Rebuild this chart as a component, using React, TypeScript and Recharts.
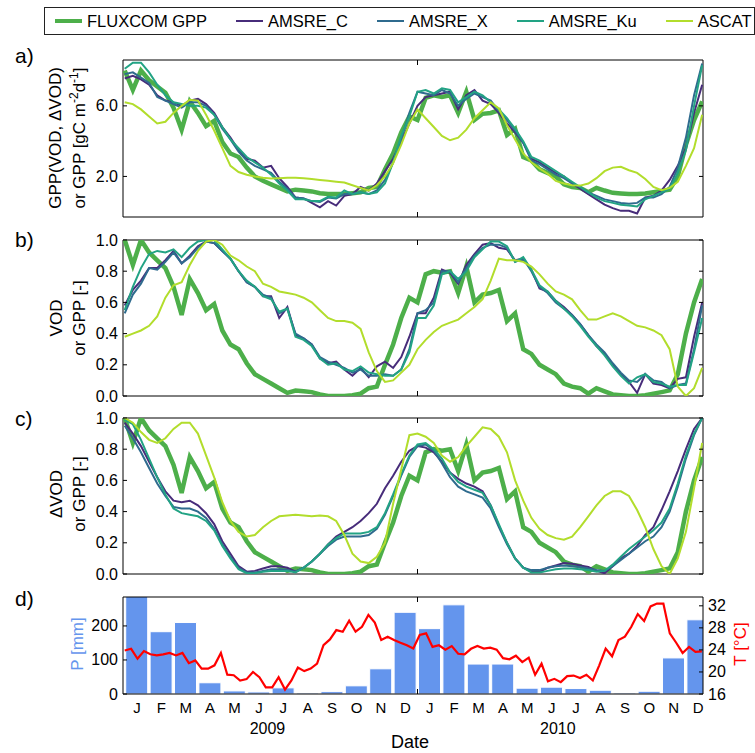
import React from "react";
import {
  LineChart,
  BarChart,
  Line,
  Bar,
  XAxis,
  YAxis,
  Legend,
  ReferenceArea,
} from "recharts";

const W = 755;
const H = 753;
const PLOT_L = 123;
const PLOT_R = 703;
const X_DOMAIN: [number, number] = [-0.57, 23.2]; // months from mid-Jan 2009
const FONT = '"Liberation Sans", Arial, Helvetica, sans-serif';

// ---- data ----
const monthLetters = ["J", "F", "M", "A", "M", "J", "J", "A", "S", "O", "N", "D"];
const yearLabels = ["2009", "2010"];
const yearLabelPos = [5.35, 17.25];
const yearBoundary = 11.5; // 1 Jan 2010

// a) GPP, ~10-day steps from 1 Jan 2009
const gppFlux = [8.0, 6.9, 8.0, 7.45, 7.1, 6.75, 5.9, 4.65, 6.25, 5.6, 4.85, 5.15, 3.95, 3.3, 3.1, 2.5, 2.0, 1.75, 1.55, 1.35, 1.15, 1.25, 1.2, 1.15, 1.05, 1.0, 1.0, 1.0, 1.05, 1.1, 1.35, 1.4, 2.4, 3.3, 4.5, 5.4, 5.2,
  6.45, 6.6, 6.5, 6.6, 5.6, 6.8, 5.2, 5.55, 5.6, 5.75, 4.35, 4.7, 3.1, 2.9, 2.4, 2.2, 2.0, 1.55, 1.4, 1.35, 1.1, 1.35, 1.2, 1.07, 1.03, 1.0, 1.0, 1.03, 1.1, 1.18, 1.25, 2.0, 3.8, 5.2, 6.25];
const gppC = [7.55, 7.7, 7.5, 7.2, 6.6, 6.3, 6.2, 6.0, 6.3, 6.4, 6.1, 5.6, 4.8, 4.2, 3.5, 3.0, 2.9, 2.5, 2.6, 1.9, 1.4, 0.8, 0.75, 0.5, 0.25, 0.6, 0.35, 0.9, 1.0, 1.4, 1.2, 1.6, 2.3, 3.0, 4.0, 5.0, 6.0,
  6.5, 6.6, 6.7, 6.8, 5.8, 6.6, 6.9, 6.3, 6.1, 5.6, 5.0, 4.5, 3.9, 3.0, 2.8, 2.5, 2.2, 2.0, 1.6, 1.3, 1.0, 0.7, 0.4, 0.2, 0.05, 0.05, -0.1, 0.8, 0.9, 1.2, 1.8, 2.6, 3.6, 5.6, 7.2];
const gppX = [7.8, 7.9, 7.6, 7.3, 6.5, 6.3, 6.1, 5.9, 6.2, 6.2, 6.0, 5.5, 4.7, 4.1, 3.4, 2.9, 2.6, 2.4, 2.2, 1.7, 1.3, 0.8, 0.75, 0.6, 0.55, 0.8, 0.75, 1.0, 1.0, 1.1, 1.0, 1.2, 1.8, 2.8, 4.1, 5.6, 6.8,
  6.7, 6.6, 6.9, 6.7, 6.0, 6.4, 6.7, 6.5, 6.3, 5.7, 5.2, 4.6, 3.9, 2.9, 2.7, 2.4, 2.1, 1.9, 1.6, 1.4, 1.1, 0.9, 0.7, 0.6, 0.5, 0.45, 0.5, 0.8, 0.8, 1.0, 1.4, 2.5, 4.2, 6.6, 8.4];
const gppKu = [8.1, 8.45, 8.45, 7.9, 7.2, 6.6, 6.2, 6.1, 6.0, 6.0, 5.9, 5.5, 4.8, 4.1, 3.6, 3.1, 2.8, 2.5, 2.1, 1.6, 1.2, 0.7, 0.7, 0.6, 0.6, 0.85, 0.8, 1.2, 1.0, 1.1, 1.0, 1.1, 1.6, 2.8, 4.3, 5.4, 6.8,
  6.9, 6.7, 7.0, 6.9, 6.2, 6.5, 6.8, 6.6, 6.2, 5.8, 5.3, 4.7, 4.0, 3.1, 2.9, 2.6, 2.3, 2.0, 1.7, 1.4, 1.1, 0.8, 0.6, 0.5, 0.4, 0.35, 0.3, 0.7, 0.9, 1.1, 1.3, 2.2, 3.5, 6.0, 8.3];
const gppAscat = [6.2, 6.1, 5.8, 5.4, 5.0, 5.1, 5.6, 6.0, 6.35, 6.3, 5.5, 4.6, 3.6, 2.6, 2.25, 2.1, 2.0, 1.92, 1.88, 1.9, 1.93, 1.93, 1.9, 1.85, 1.8, 1.75, 1.7, 1.65, 1.5, 1.35, 1.2, 1.5, 2.0, 2.75, 3.8, 5.0, 5.8,
  5.3, 4.8, 4.3, 4.05, 4.2, 4.65, 5.3, 5.75, 6.2, 5.85, 4.9, 4.1, 3.3, 2.8, 2.45, 2.15, 1.75, 1.6, 1.5, 1.48, 1.6, 1.9, 2.3, 2.5, 2.55, 2.35, 2.2, 1.85, 1.4, 1.22, 1.35, 1.7, 2.6, 3.6, 5.5];

// b) normalised VOD (FLUXCOM normalised GPP is shared with c)
const normFlux = [1.0, 0.84, 1.0, 0.92, 0.87, 0.82, 0.7, 0.52, 0.75, 0.66, 0.55, 0.59, 0.42, 0.33, 0.3, 0.21, 0.14, 0.11, 0.08, 0.05, 0.02, 0.035, 0.03, 0.025, 0.01, 0, 0, 0, 0.005, 0.015, 0.05, 0.06, 0.2, 0.33, 0.5, 0.63, 0.6,
  0.78, 0.8, 0.79, 0.8, 0.66, 0.83, 0.6, 0.65, 0.66, 0.68, 0.48, 0.53, 0.3, 0.27, 0.2, 0.17, 0.14, 0.08, 0.06, 0.05, 0.015, 0.05, 0.03, 0.01, 0.005, 0, 0, 0.005, 0.015, 0.025, 0.036, 0.14, 0.4, 0.6, 0.75];
const vodC = [0.58, 0.68, 0.74, 0.82, 0.82, 0.87, 0.93, 0.85, 0.9, 0.96, 0.99, 0.98, 0.93, 0.88, 0.8, 0.73, 0.7, 0.64, 0.64, 0.5, 0.57, 0.39, 0.37, 0.33, 0.24, 0.21, 0.22, 0.17, 0.13, 0.18, 0.12, 0.19, 0.22, 0.18, 0.25, 0.38, 0.53,
  0.53, 0.63, 0.81, 0.79, 0.72, 0.84, 0.91, 0.97, 0.98, 0.95, 0.94, 0.87, 0.88, 0.81, 0.69, 0.67, 0.61, 0.57, 0.52, 0.46, 0.39, 0.32, 0.27, 0.2, 0.14, 0.09, 0.02, 0.14, 0.08, 0.07, 0.05, 0.11, 0.12, 0.38, 0.6];
const vodX = [0.53, 0.65, 0.72, 0.82, 0.81, 0.86, 0.92, 0.85, 0.89, 0.95, 0.99, 0.98, 0.93, 0.88, 0.8, 0.73, 0.7, 0.65, 0.63, 0.53, 0.56, 0.4, 0.37, 0.33, 0.25, 0.22, 0.2, 0.18, 0.15, 0.17, 0.13, 0.13, 0.14, 0.13, 0.17, 0.3, 0.53,
  0.55, 0.6, 0.8, 0.8, 0.73, 0.82, 0.9, 0.95, 0.97, 0.97, 0.95, 0.86, 0.88, 0.8, 0.7, 0.66, 0.6, 0.56, 0.52, 0.46, 0.39, 0.33, 0.28, 0.21, 0.15, 0.1, 0.09, 0.14, 0.1, 0.09, 0.05, 0.07, 0.08, 0.3, 0.58];
const vodKu = [0.55, 0.7, 0.82, 0.91, 0.93, 0.92, 0.94, 0.89, 0.95, 0.99, 1.0, 1.0, 0.94, 0.88, 0.8, 0.74, 0.7, 0.64, 0.62, 0.54, 0.56, 0.38, 0.36, 0.32, 0.24, 0.2, 0.21, 0.17, 0.16, 0.19, 0.15, 0.14, 0.13, 0.13, 0.17, 0.28, 0.5,
  0.5, 0.58, 0.78, 0.8, 0.75, 0.8, 0.89, 0.94, 0.99, 0.99, 0.96, 0.86, 0.89, 0.81, 0.71, 0.67, 0.61, 0.56, 0.51, 0.45, 0.38, 0.32, 0.26, 0.19, 0.13, 0.08, 0.12, 0.14, 0.09, 0.08, 0.06, 0.07, 0.07, 0.28, 0.5];
const vodAscat = [0.38, 0.4, 0.42, 0.45, 0.51, 0.63, 0.71, 0.73, 0.84, 0.93, 0.99, 1.0, 0.97, 0.9, 0.87, 0.83, 0.8, 0.72, 0.7, 0.67, 0.66, 0.65, 0.63, 0.6, 0.55, 0.5, 0.48, 0.48, 0.47, 0.43, 0.28, 0.16, 0.09, 0.1, 0.15, 0.2, 0.3,
  0.36, 0.41, 0.45, 0.47, 0.49, 0.53, 0.57, 0.62, 0.74, 0.88, 0.87, 0.87, 0.86, 0.83, 0.78, 0.72, 0.67, 0.65, 0.62, 0.55, 0.49, 0.49, 0.51, 0.53, 0.51, 0.48, 0.45, 0.44, 0.42, 0.39, 0.3, 0.06, 0.0, 0.05, 0.18];

// c) normalised delta-VOD
const dvodC = [0.97, 0.9, 0.82, 0.72, 0.62, 0.53, 0.47, 0.46, 0.47, 0.44, 0.39, 0.32, 0.21, 0.13, 0.05, 0.015, 0.02, 0.035, 0.05, 0.05, 0.04, 0.015, 0.04, 0.08, 0.13, 0.19, 0.24, 0.27, 0.3, 0.34, 0.39, 0.45, 0.55, 0.63, 0.72, 0.79, 0.82,
  0.81, 0.78, 0.72, 0.65, 0.61, 0.58, 0.56, 0.53, 0.44, 0.31, 0.2, 0.1, 0.04, 0.015, 0.015, 0.04, 0.055, 0.07, 0.065, 0.055, 0.045, 0.02, 0.005, 0.05, 0.1, 0.13, 0.18, 0.25, 0.3, 0.41, 0.53, 0.66, 0.8, 0.93, 1.0];
const dvodX = [0.95, 0.87, 0.78, 0.68, 0.58, 0.5, 0.43, 0.42, 0.42, 0.4, 0.36, 0.29, 0.19, 0.11, 0.04, 0.01, 0.01, 0.02, 0.03, 0.03, 0.025, 0.015, 0.04, 0.08, 0.13, 0.18, 0.22, 0.24, 0.24, 0.24, 0.25, 0.29, 0.38, 0.5, 0.63, 0.75, 0.82,
  0.83, 0.79, 0.71, 0.62, 0.56, 0.53, 0.51, 0.49, 0.42, 0.3, 0.19, 0.1, 0.04, 0.025, 0.025, 0.04, 0.05, 0.055, 0.05, 0.045, 0.035, 0.025, 0.02, 0.05, 0.09, 0.13, 0.17, 0.21, 0.24, 0.3, 0.4, 0.56, 0.74, 0.89, 1.0];
const dvodKu = [0.99, 0.96, 0.86, 0.74, 0.62, 0.51, 0.42, 0.39, 0.38, 0.37, 0.34, 0.28, 0.18, 0.1, 0.03, 0.005, 0.005, 0.015, 0.02, 0.02, 0.02, 0.01, 0.04, 0.08, 0.13, 0.19, 0.23, 0.26, 0.26, 0.26, 0.27, 0.3, 0.39, 0.51, 0.64, 0.76, 0.83,
  0.84, 0.8, 0.74, 0.65, 0.59, 0.56, 0.54, 0.52, 0.44, 0.32, 0.2, 0.1, 0.04, 0.01, 0.01, 0.02, 0.03, 0.035, 0.035, 0.03, 0.025, 0.015, 0.02, 0.06, 0.11, 0.16, 0.2, 0.24, 0.28, 0.33, 0.42, 0.58, 0.76, 0.9, 1.0];
const dvodAscat = [1.0, 0.97, 0.91, 0.86, 0.84, 0.87, 0.93, 0.97, 0.97, 0.9, 0.76, 0.62, 0.46, 0.34, 0.27, 0.24, 0.25, 0.3, 0.34, 0.37, 0.375, 0.38, 0.375, 0.37, 0.375, 0.37, 0.34, 0.25, 0.13, 0.08, 0.07, 0.11, 0.2, 0.45, 0.67, 0.89, 0.9,
  0.88, 0.84, 0.76, 0.72, 0.75, 0.82, 0.88, 0.94, 0.93, 0.88, 0.78, 0.6, 0.47, 0.36, 0.29, 0.25, 0.23, 0.22, 0.24, 0.3, 0.37, 0.44, 0.5, 0.53, 0.53, 0.5, 0.41, 0.3, 0.16, 0.05, 0.0, 0.1, 0.27, 0.55, 0.84];

// d) monthly precipitation [mm] and 8-day temperature [°C]
const precip = [288, 183, 210, 33, 9, 6, 18, 3, 7, 24, 74, 240, 192, 262, 88, 88, 17, 20, 16, 11, 3, 8, 106, 218];
const temperature = [23.9, 24.2, 22.4, 23.8, 23.2, 23.0, 23.2, 23.45, 23.0, 23.45, 21.6, 22.1, 20.6, 20.6, 21.2, 23.45, 19.5, 19.4, 18.45, 18.7,
  20.0, 19.05, 17.2, 17.2, 19.05, 16.8, 18.45, 20.8, 20.15, 20.6, 21.5, 24.85, 25.9, 27.6, 27.3, 29.3, 27.3, 28.2, 30.35, 28.95,
  25.8, 26.4, 25.8, 25.3, 24.85, 24.25, 26.7, 27.0, 24.55, 24.85, 24.05, 24.7, 23.3, 23.2, 24.2, 24.7, 24.25, 24.4, 24.05, 22.5,
  22.3, 22.95, 21.8, 22.6, 19.5, 21.5, 18.3, 18.75, 18.15, 19.25, 19.35, 18.9, 19.5, 18.45, 21.2, 24.25, 22.85, 25.8, 26.4, 28.2,
  30.5, 29.25, 31.9, 32.4, 32.4, 27.0, 25.3, 23.45, 24.55, 23.65, 23.75];

// ---- styling ----
const SERIES = [
  { key: "flux", name: "FLUXCOM GPP", color: "#4daf4a", width: 4.5 },
  { key: "c", name: "AMSRE_C", color: "#472c7a", width: 2 },
  { key: "x", name: "AMSRE_X", color: "#2f6b8e", width: 2 },
  { key: "ku", name: "AMSRE_Ku", color: "#22a384", width: 2 },
  { key: "ascat", name: "ASCAT", color: "#b2dd2c", width: 2 },
];
const P_COLOR = "#6495ed";
const T_COLOR = "#ff0000";

// sample times in months (0 = mid Jan 2009)
const dekadTime = gppFlux.map((_, j) => -0.5 + j / 3);
const makeTable = (flux: number[], c: number[], x: number[], ku: number[], ascat: number[]) =>
  dekadTime.map((t, j) => ({ t, flux: flux[j], c: c[j], x: x[j], ku: ku[j], ascat: ascat[j] }));

const tableA = makeTable(gppFlux, gppC, gppX, gppKu, gppAscat);
const tableB = makeTable(normFlux, vodC, vodX, vodKu, vodAscat);
const tableC = makeTable(normFlux, dvodC, dvodX, dvodKu, dvodAscat);
const precipTable = precip.map((p, i) => ({ t: i, p }));
const tempTable = temperature.map((T, k) => ({ t: -0.5 + (k * 8) / 30.44, T }));

// inward tick marks + labels
const yTick = (fmt: (v: number) => string, side: "left" | "right", mirror: boolean) => (props: any) => {
  const { y, payload } = props;
  const left = side === "left";
  const x0 = left ? PLOT_L : PLOT_R;
  return (
    <g>
      <line x1={x0} x2={x0 + (left ? 4 : -4)} y1={y} y2={y} stroke="#000" />
      {mirror && <line x1={PLOT_R} x2={PLOT_R - 4} y1={y} y2={y} stroke="#000" />}
      <text
        x={left ? PLOT_L - 5 : PLOT_R + 5}
        y={y}
        dy={5.5}
        textAnchor={left ? "end" : "start"}
        fontSize={16}
        fontFamily={FONT}
        fill="#000"
      >
        {fmt(payload.value)}
      </text>
    </g>
  );
};

const yearTickMarks = (top: number, bottom: number) => (props: any) => (
  <g>
    <line x1={props.x} x2={props.x} y1={bottom} y2={bottom - 5} stroke="#000" />
    <line x1={props.x} x2={props.x} y1={top} y2={top + 5} stroke="#000" />
  </g>
);

type TitleLine = { x: number; node: React.ReactNode; color?: string };
const axisTitle = (tag: string | null, tagY: number, cy: number, lines: TitleLine[]) => () => (
  <g fontFamily={FONT}>
    {tag && (
      <text x={15} y={tagY} fontSize={21} fill="#000">
        {tag}
      </text>
    )}
    {lines.map((ln, i) => (
      <text
        key={i}
        transform={`translate(${ln.x},${cy}) rotate(-90)`}
        y={6}
        textAnchor="middle"
        fontSize={17}
        fill={ln.color ?? "#000"}
      >
        {ln.node}
      </text>
    ))}
  </g>
);

const renderLegend = () => (
  <div
    style={{
      boxSizing: "border-box",
      width: 711,
      height: 28,
      border: "1px solid #222",
      background: "#fff",
      display: "flex",
      alignItems: "center",
      paddingLeft: 10,
      fontFamily: FONT,
      fontSize: 16.5,
      color: "#000",
      whiteSpace: "nowrap",
    }}
  >
    {SERIES.map((s) => (
      <div key={s.key} style={{ display: "flex", alignItems: "center", marginRight: 29 }}>
        <span style={{ display: "inline-block", width: 27, height: s.width, background: s.color, marginRight: 5 }} />
        <span>{s.name}</span>
      </div>
    ))}
  </div>
);

interface PanelProps {
  top: number;
  bottom: number;
  data: any[];
  domain: [number, number];
  ticks: number[];
  title: () => React.ReactElement;
  legend?: boolean;
}

function LinePanel({ top, bottom, data, domain, ticks, title, legend }: PanelProps) {
  return (
    <div style={{ position: "absolute", left: 0, top: 0 }}>
      <LineChart
        width={W}
        height={H}
        data={data}
        margin={{ top, bottom: H - bottom - 1, left: PLOT_L - 60, right: W - PLOT_R }}
      >
        <XAxis
          type="number"
          dataKey="t"
          domain={X_DOMAIN}
          allowDataOverflow
          ticks={[yearBoundary]}
          interval={0}
          height={1}
          axisLine={false}
          tickLine={false}
          tick={yearTickMarks(top, bottom)}
        />
        <YAxis
          domain={domain}
          allowDataOverflow
          ticks={ticks}
          interval={0}
          width={60}
          axisLine={false}
          tickLine={false}
          tick={yTick((v) => v.toFixed(1), "left", true)}
          label={title}
        />
        <ReferenceArea
          x1={X_DOMAIN[0]}
          x2={X_DOMAIN[1]}
          y1={domain[0]}
          y2={domain[1]}
          fill="none"
          stroke="#000"
          strokeWidth={1}
        />
        {legend && (
          <Legend
            layout="horizontal"
            verticalAlign="middle"
            align="center"
            wrapperStyle={{ top: 7, left: 44, width: 711 }}
            content={renderLegend}
          />
        )}
        {SERIES.map((s) => (
          <Line
            key={s.key}
            type="linear"
            dataKey={s.key}
            name={s.name}
            stroke={s.color}
            strokeWidth={s.width}
            dot={false}
            isAnimationActive={false}
          />
        ))}
      </LineChart>
    </div>
  );
}

// panel d geometry
const D_TOP = 597;
const D_BOTTOM = 694;
const D_AXIS_H = 55;
const P_DOMAIN: [number, number] = [0, 285];
const T_DOMAIN: [number, number] = [16, 33.6];

const monthTick = (props: any) => (
  <text x={props.x} y={713} textAnchor="middle" fontSize={15} fontFamily={FONT} fill="#000">
    {monthLetters[props.payload.value % 12]}
  </text>
);

const yearTick = (props: any) => {
  const v = props.payload.value as number;
  if (v === yearBoundary) return yearTickMarks(D_TOP, D_BOTTOM)(props);
  return (
    <text x={props.x} y={734} textAnchor="middle" fontSize={16} fontFamily={FONT} fill="#000">
      {yearLabels[yearLabelPos.indexOf(v)]}
    </text>
  );
};

const dateLabel = () => (
  <text x={410} y={748} textAnchor="middle" fontSize={18} fontFamily={FONT} fill="#000">
    Date
  </text>
);

function PrecipPanel() {
  return (
    <div style={{ position: "absolute", left: 0, top: 0 }}>
      <BarChart
        width={W}
        height={H}
        data={precipTable}
        margin={{ top: D_TOP, bottom: H - D_BOTTOM - D_AXIS_H, left: PLOT_L - 60, right: W - PLOT_R }}
        barCategoryGap={0}
      >
        <XAxis
          type="number"
          dataKey="t"
          domain={X_DOMAIN}
          allowDataOverflow
          ticks={precip.map((_, i) => i)}
          interval={0}
          height={D_AXIS_H}
          axisLine={false}
          tickLine={false}
          tick={monthTick}
          label={dateLabel}
        />
        <YAxis
          domain={P_DOMAIN}
          allowDataOverflow
          ticks={[0, 100, 200]}
          interval={0}
          width={60}
          axisLine={false}
          tickLine={false}
          tick={yTick((v) => String(v), "left", false)}
          label={axisTitle("d)", 606, 644, [{ x: 77, node: "P [mm]", color: P_COLOR }])}
        />
        <Bar
          dataKey="p"
          name="P"
          fill={P_COLOR}
          stroke="#ffffff"
          strokeWidth={1}
          barSize={22}
          isAnimationActive={false}
        />
      </BarChart>
    </div>
  );
}

function TempPanel() {
  return (
    <div style={{ position: "absolute", left: 0, top: 0 }}>
      <LineChart
        width={W}
        height={H}
        data={tempTable}
        margin={{ top: D_TOP, bottom: H - D_BOTTOM - D_AXIS_H, left: PLOT_L, right: 0 }}
      >
        <XAxis
          type="number"
          dataKey="t"
          domain={X_DOMAIN}
          allowDataOverflow
          ticks={[yearLabelPos[0], yearBoundary, yearLabelPos[1]]}
          interval={0}
          height={D_AXIS_H}
          axisLine={false}
          tickLine={false}
          tick={yearTick}
        />
        <YAxis
          orientation="right"
          domain={T_DOMAIN}
          allowDataOverflow
          ticks={[16, 20, 24, 28, 32]}
          interval={0}
          width={W - PLOT_R}
          axisLine={false}
          tickLine={false}
          tick={yTick((v) => String(v), "right", false)}
          label={axisTitle(null, 0, 644, [{ x: 740, node: "T [°C]", color: T_COLOR }])}
        />
        <ReferenceArea
          x1={X_DOMAIN[0]}
          x2={X_DOMAIN[1]}
          y1={T_DOMAIN[0]}
          y2={T_DOMAIN[1]}
          fill="none"
          stroke="#000"
          strokeWidth={1}
        />
        <Line
          type="linear"
          dataKey="T"
          name="T"
          stroke={T_COLOR}
          strokeWidth={2.2}
          dot={false}
          isAnimationActive={false}
        />
      </LineChart>
    </div>
  );
}

const gppUnit = (
  <>
    or GPP [gC m
    <tspan dy={-7} fontSize={12}>-2</tspan>
    <tspan dy={7}>d</tspan>
    <tspan dy={-7} fontSize={12}>-1</tspan>
    <tspan dy={7}>]</tspan>
  </>
);

export default function App() {
  return (
    <div style={{ position: "absolute", left: 0, top: 0, width: W, height: H, background: "#fff" }}>
      <LinePanel
        top={60}
        bottom={217}
        data={tableA}
        domain={[-0.3, 8.6]}
        ticks={[2, 6]}
        legend
        title={axisTitle("a)", 63, 138, [
          { x: 55, node: "GPP(VOD, ΔVOD)" },
          { x: 79, node: gppUnit },
        ])}
      />
      <LinePanel
        top={240}
        bottom={396}
        data={tableB}
        domain={[0, 1]}
        ticks={[0, 0.2, 0.4, 0.6, 0.8, 1.0]}
        title={axisTitle("b)", 247, 318, [
          { x: 56, node: "VOD" },
          { x: 79, node: "or GPP [-]" },
        ])}
      />
      <LinePanel
        top={418}
        bottom={574}
        data={tableC}
        domain={[0, 1]}
        ticks={[0, 0.2, 0.4, 0.6, 0.8, 1.0]}
        title={axisTitle("c)", 426, 494, [
          { x: 56, node: "ΔVOD" },
          { x: 79, node: "or GPP [-]" },
        ])}
      />
      <PrecipPanel />
      <TempPanel />
    </div>
  );
}
